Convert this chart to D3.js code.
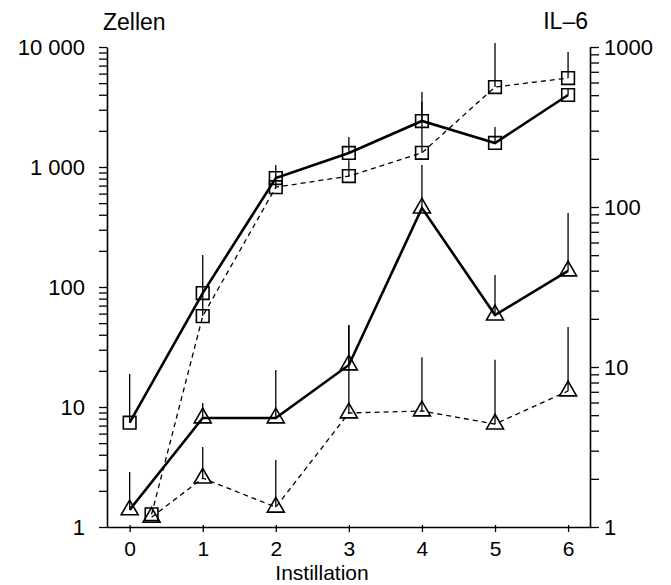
<!DOCTYPE html>
<html>
<head>
<meta charset="utf-8">
<script src="https://cdn.jsdelivr.net/npm/d3@7"></script>
<style>
body { margin:0; background:#fff; }
svg text { font-family: "Liberation Sans", Arial, sans-serif; fill:#000; }
</style>
</head>
<body>
<svg width="671" height="585" id="viz"></svg>
<script>
// Instillation positions (dashed series start shifted at 0.3)
var xSolid = [0, 1, 2, 3, 4, 5, 6];
var xDashed = [0.3, 1, 2, 3, 4, 5, 6];
var xTicks = [0, 1, 2, 3, 4, 5, 6];

// Zellen (left axis), solid lines
var zellenSquare    = [7.4, 89, 809, 1309, 2417, 1585, 3981];
var zellenSquareErr = [18.8, 185, 1040, 1778, 3500, 2154, 4500];
var zellenTri       = [1.39, 8.1, 8.1, 22.4, 455, 58.4, 136];
var zellenTriErr    = [2.87, 10.8, 20.3, 48, 1039, 126, 414];

// IL-6 (right axis), dashed lines
var il6Square    = [1.2, 20.8, 133, 156, 218, 562, 640];
var il6SquareErr = [null, 30, 158, 196, 524, 1060, 930];
var il6Tri       = [1.15, 2.02, 1.33, 5.16, 5.31, 4.4, 7.08];
var il6TriErr    = [null, 3.16, 2.62, 18.3, 11.5, 11.1, 17.8];

var svg = d3.select("#viz");
var xScale = d3.scaleLinear().domain([-0.31, 6.3]).range([107, 590]);
var yLeft = d3.scaleLog().domain([1, 10000]).range([527, 47]);
var yRight = d3.scaleLog().domain([1, 1000]).range([527, 47]);

function logTicks(maxExp) {
	var t = [];
	for (var e = 0; e < maxExp; e++)
		for (var m = 1; m < 10; m++) t.push(m * Math.pow(10, e));
	t.push(Math.pow(10, maxExp));
	return t;
}
function isDecade(v) { var l = Math.log10(v); return Math.abs(l - Math.round(l)) < 1e-9; }
function leftFmt(v) { return isDecade(v) ? d3.format(",")(v).replace(/,/g, " ") : ""; }
function rightFmt(v) { return isDecade(v) ? d3.format("d")(v) : ""; }

var yAxisL = d3.axisLeft(yLeft).tickValues(logTicks(4)).tickFormat(leftFmt).tickSizeInner(8).tickSizeOuter(0).tickPadding(14);
var yAxisR = d3.axisRight(yRight).tickValues(logTicks(3)).tickFormat(rightFmt).tickSizeInner(9).tickSizeOuter(0).tickPadding(5);
var xAxis = d3.axisBottom(xScale).tickValues(xTicks).tickFormat(d3.format("d")).tickSizeInner(5).tickSizeOuter(0).tickPadding(9);

var gx = svg.append("g").attr("transform", "translate(0,527)").call(xAxis);
var gl = svg.append("g").attr("transform", "translate(107,0)").call(yAxisL);
var gr = svg.append("g").attr("transform", "translate(590,0)").call(yAxisR);
[gx, gl, gr].forEach(function (g) {
	g.select(".domain").attr("stroke", "#000").attr("stroke-width", 1.6);
	g.selectAll(".tick line").attr("stroke", "#000").attr("stroke-width", 1.3);
	g.selectAll(".tick text").style("font-size", "22px").attr("fill", "#000");
});
gx.selectAll(".tick text").style("font-size", "21px");
gx.selectAll(".tick line").attr("y1", -2);

svg.append("text").text("Zellen").attr("x", 103).attr("y", 30).style("font-size", "23px");
svg.append("text").text("IL\u20136").attr("x", 588).attr("y", 29).attr("text-anchor", "end").style("font-size", "23px");
svg.append("text").text("Instillation").attr("x", 322).attr("y", 580).attr("text-anchor", "middle").style("font-size", "21px");

function series(xs, vals, errs, yScale, dashed, marker) {
	var pts = xs.map(function (x, i) { return {x: x, v: vals[i], e: errs[i]}; });
	var g = svg.append("g");
	g.selectAll(".err").data(pts.filter(function (d) { return d.e != null; })).enter().append("line")
		.attr("x1", function (d) { return xScale(d.x); }).attr("x2", function (d) { return xScale(d.x); })
		.attr("y1", function (d) { return yScale(d.v); }).attr("y2", function (d) { return yScale(d.e); })
		.attr("stroke", "#000").attr("stroke-width", 1.3);
	g.append("path").datum(pts)
		.attr("d", d3.line().x(function (d) { return xScale(d.x); }).y(function (d) { return yScale(d.v); }))
		.attr("fill", "none").attr("stroke", "#000")
		.attr("stroke-width", dashed ? 1.3 : 2.6)
		.attr("stroke-dasharray", dashed ? "5,4" : null);
	var sym = d3.symbol().type(marker == "square" ? d3.symbolSquare : d3.symbolTriangle).size(marker == "square" ? 160 : 125);
	g.selectAll(".mk").data(pts).enter().append("path")
		.attr("transform", function (d) { return "translate(" + xScale(d.x) + "," + yScale(d.v) + ")"; })
		.attr("d", sym).attr("fill", "none").attr("stroke", "#000").attr("stroke-width", 1.6);
}

series(xDashed, il6Square, il6SquareErr, yRight, true, "square");
series(xDashed, il6Tri, il6TriErr, yRight, true, "triangle");
series(xSolid, zellenSquare, zellenSquareErr, yLeft, false, "square");
series(xSolid, zellenTri, zellenTriErr, yLeft, false, "triangle");
</script>
</body>
</html>
